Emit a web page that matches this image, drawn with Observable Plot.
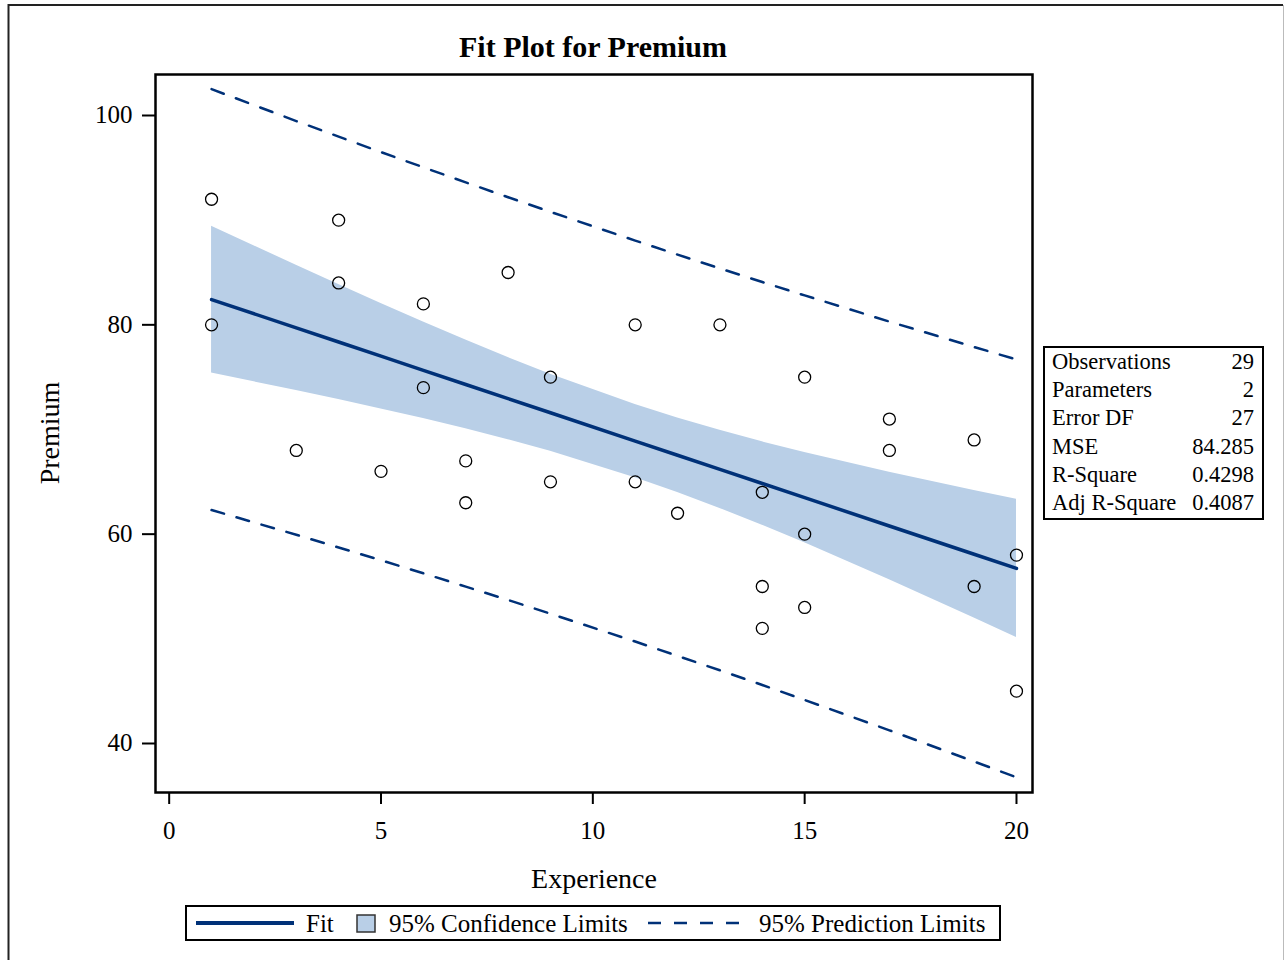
<!DOCTYPE html>
<html>
<head>
<meta charset="utf-8">
<script src="https://cdn.jsdelivr.net/npm/d3@7"></script>
<script src="https://cdn.jsdelivr.net/npm/@observablehq/plot@0.6"></script>
<style>
  body { margin: 0; background: #fff; }
  #chart { position: absolute; left: 0; top: 0; }
</style>
</head>
<body>
<div id="chart"></div>
<script>
// Observations
const experience = [1,1,3,4,4,5,6,6,7,7,8,9,9,11,11,12,13,14,14,14,15,15,15,17,17,19,19,20,20];
const premium    = [92,80,68,90,84,66,82,74,67,63,85,75,65,80,65,62,80,64,55,51,75,60,53,71,68,69,55,58,45];

// Fit line, confidence band and prediction limits (read at distinct x values)
const fitX    = [1,3,4,5,6,7,8,9,11,12,13,14,15,17,19,20];
const fitY    = [82.41,79.71,78.36,77.01,75.65,74.30,72.95,71.60,68.89,67.54,66.19,64.84,63.49,60.78,58.08,56.73];
const clLower = [75.39,73.73,72.86,71.97,71.04,70.06,69.03,67.91,65.40,63.98,62.46,60.86,59.18,55.65,51.99,50.13];
const clUpper = [89.43,85.69,83.85,82.04,80.27,78.54,76.88,75.29,72.39,71.11,69.92,68.82,67.80,65.91,64.17,63.33];
const plLower = [62.31,59.94,58.73,57.51,56.26,54.99,53.71,52.40,49.74,48.37,46.99,45.59,44.16,41.26,38.28,36.77];
const plUpper = [102.52,99.47,97.98,96.50,95.05,93.61,92.19,90.79,88.05,86.71,85.39,84.09,82.81,80.31,77.88,76.69];

const xTicks = [0,5,10,15,20];
const yTicks = [40,60,80,100];

const statLabels = ["Observations","Parameters","Error DF","MSE","R-Square","Adj R-Square"];
const statValues = ["29","2","27","84.285","0.4298","0.4087"];

const legendLabels = ["Fit","95% Confidence Limits","95% Prediction Limits"];
const titleText = "Fit Plot for Premium";
const xLabel = "Experience";
const yLabel = "Premium";

const FIT = "#003178";
const CONF = "#b9cfe7";
const SERIF = '"Liberation Serif", "Times New Roman", Times, serif';

const points = experience.map((x, i) => ({x, y: premium[i]}));
const band = fitX.map((x, i) => ({x, fit: fitY[i], lo: clLower[i], hi: clUpper[i], plo: plLower[i], phi: plUpper[i]}));

const W = 1285, H = 960;
const plot = Plot.plot({
  width: W,
  height: H,
  marginLeft: 155,
  marginRight: 253,
  marginTop: 74,
  marginBottom: 168,
  style: {fontFamily: SERIF, fontSize: "25px", color: "black", background: "white", overflow: "visible"},
  x: {domain: [-0.323, 20.378]},
  y: {domain: [35.318, 103.917]},
  marks: [
    Plot.areaY(band, {x: "x", y1: "lo", y2: "hi", fill: CONF}),
    Plot.line(band, {x: "x", y: "plo", stroke: FIT, strokeWidth: 2.5, strokeDasharray: "13,13"}),
    Plot.line(band, {x: "x", y: "phi", stroke: FIT, strokeWidth: 2.5, strokeDasharray: "13,13"}),
    Plot.line(band, {x: "x", y: "fit", stroke: FIT, strokeWidth: 3.5}),
    Plot.dot(points, {x: "x", y: "y", r: 6, stroke: "black", strokeWidth: 1.3, fill: "none"}),
    Plot.frame({stroke: "black", strokeWidth: 2.5}),
    Plot.axisX({ticks: xTicks, tickSize: 12, tickPadding: 17, label: null, strokeWidth: 2, fontSize: 25}),
    Plot.axisY({ticks: yTicks, tickSize: 13, tickPadding: 10, label: null, strokeWidth: 2, fontSize: 25})
  ]
});
document.getElementById("chart").appendChild(plot);

const svg = d3.select(plot);
const g = svg.append("g").attr("font-family", SERIF).attr("fill", "black");

// outer border
g.append("path").attr("d", `M8.5,${H} V5 H1283`).attr("fill", "none").attr("stroke", "#222").attr("stroke-width", 2);
g.append("line").attr("x1", 1283.5).attr("x2", 1283.5).attr("y1", 5).attr("y2", H).attr("stroke", "#bbb").attr("stroke-width", 1);

// title and axis labels
g.append("text").attr("x", 593).attr("y", 57).attr("text-anchor", "middle")
  .attr("font-size", 30).attr("font-weight", "bold").text(titleText);
g.append("text").attr("x", 594).attr("y", 888).attr("text-anchor", "middle")
  .attr("font-size", 28).text(xLabel);
g.append("text").attr("transform", "translate(59,433) rotate(-90)").attr("text-anchor", "middle")
  .attr("font-size", 28).text(yLabel);

// statistics inset
const tb = g.append("g");
tb.append("rect").attr("x", 1044).attr("y", 347).attr("width", 219).attr("height", 172)
  .attr("fill", "white").attr("stroke", "black").attr("stroke-width", 2);
statLabels.forEach((s, i) => {
  const y = 369 + i * 28.2;
  tb.append("text").attr("x", 1052).attr("y", y).attr("text-anchor", "start").attr("font-size", 22.5).text(s);
  tb.append("text").attr("x", 1254).attr("y", y).attr("text-anchor", "end").attr("font-size", 22.5).text(statValues[i]);
});

// legend
const lg = g.append("g");
lg.append("rect").attr("x", 186).attr("y", 906).attr("width", 814).attr("height", 34)
  .attr("fill", "white").attr("stroke", "black").attr("stroke-width", 2);
lg.append("line").attr("x1", 196).attr("x2", 294).attr("y1", 923).attr("y2", 923)
  .attr("stroke", FIT).attr("stroke-width", 4);
lg.append("text").attr("x", 306).attr("y", 932).attr("text-anchor", "start").attr("font-size", 25).text(legendLabels[0]);
lg.append("rect").attr("x", 357).attr("y", 915).attr("width", 18).attr("height", 17)
  .attr("fill", CONF).attr("stroke", "#333").attr("stroke-width", 1.5);
lg.append("text").attr("x", 389).attr("y", 932).attr("text-anchor", "start").attr("font-size", 25).text(legendLabels[1]);
lg.append("line").attr("x1", 648).attr("x2", 741).attr("y1", 923).attr("y2", 923)
  .attr("stroke", FIT).attr("stroke-width", 2.5).attr("stroke-dasharray", "13,13");
lg.append("text").attr("x", 759).attr("y", 932).attr("text-anchor", "start").attr("font-size", 25).text(legendLabels[2]);
</script>
</body>
</html>
